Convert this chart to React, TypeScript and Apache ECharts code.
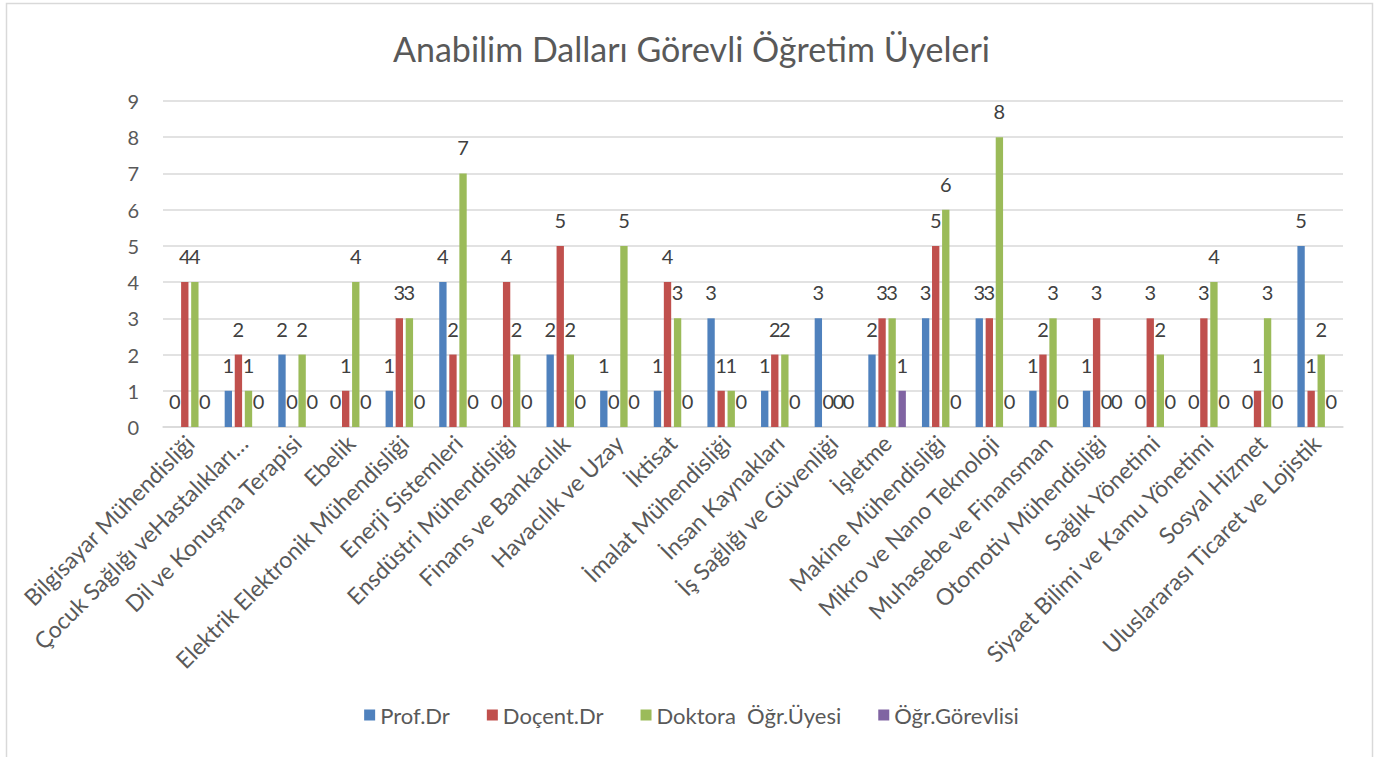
import React, { useEffect, useRef } from "react";
import * as echarts from "echarts";

const categories = [
  "Bilgisayar Mühendisliği",
  "Çocuk Sağlığı veHastalıkları…",
  "Dil ve Konuşma Terapisi",
  "Ebelik",
  "Elektrik Elektronik Mühendisliği",
  "Enerji Sistemleri",
  "Ensdüstri Mühendisliği",
  "Finans ve Bankacılık",
  "Havacılık ve Uzay",
  "İktisat",
  "İmalat Mühendisliği",
  "İnsan Kaynakları",
  "İş Sağlığı ve Güvenliği",
  "İşletme",
  "Makine Mühendisliği",
  "Mikro ve Nano Teknoloji",
  "Muhasebe ve Finansman",
  "Otomotiv Mühendisliği",
  "Sağlık Yönetimi",
  "Siyaet Bilimi ve Kamu Yönetimi",
  "Sosyal Hizmet",
  "Uluslararası Ticaret ve Lojistik",
];

const profDr = [0, 1, 2, 0, 1, 4, 0, 2, 1, 1, 3, 1, 3, 2, 3, 3, 1, 1, 0, 0, 0, 5];
const docentDr = [4, 2, 0, 1, 3, 2, 4, 5, 0, 4, 1, 2, 0, 3, 5, 3, 2, 3, 3, 3, 1, 1];
const doktoraOgrUyesi = [4, 1, 2, 4, 3, 7, 2, 2, 5, 3, 1, 2, 0, 3, 6, 8, 3, 0, 2, 4, 3, 2];
const ogrGorevlisi = [0, 0, 0, 0, 0, 0, 0, 0, 0, 0, 0, 0, 0, 1, 0, 0, 0, 0, 0, 0, 0, 0];

const seriesNames = ["Prof.Dr", "Doçent.Dr", "Doktora  Öğr.Üyesi", "Öğr.Görevlisi"];
const colors = ["#4F81BD", "#C0504D", "#9BBB59", "#8064A2"];
const yTicks = [0, 1, 2, 3, 4, 5, 6, 7, 8, 9];

const FONT = "Lato, 'Open Sans', sans-serif";

export default function App() {
  const ref = useRef<HTMLDivElement>(null);
  useEffect(() => {
    if (!ref.current) return;
    const chart = echarts.init(ref.current, undefined, { renderer: "svg" });
    const dataSets = [profDr, docentDr, doktoraOgrUyesi, ogrGorevlisi];
    chart.setOption({
      animation: false,
      backgroundColor: "#FFFFFF",
      textStyle: { fontFamily: FONT },
      title: {
        text: "Anabilim Dalları Görevli Öğretim Üyeleri",
        left: "center",
        top: 26,
        textStyle: { fontFamily: FONT, fontSize: 34, fontWeight: "normal", color: "#595959" },
      },
      legend: {
        bottom: 26,
        left: "center",
        itemWidth: 11,
        itemHeight: 11,
        itemGap: 37,
        icon: "rect",
        textStyle: { fontFamily: FONT, fontSize: 22, color: "#595959" },
        data: seriesNames,
      },
      grid: { left: 163, right: 40, top: 101, bottom: 330, containLabel: false },
      xAxis: {
        type: "category",
        data: categories,
        axisLine: { lineStyle: { color: "#D9D9D9", width: 1.5 } },
        axisTick: { show: false },
        axisLabel: {
          interval: 0,
          rotate: 45,
          margin: 12,
          fontFamily: FONT,
          fontSize: 23,
          color: "#595959",
        },
      },
      yAxis: {
        type: "value",
        min: 0,
        max: yTicks[yTicks.length - 1],
        interval: 1,
        axisLine: { show: false },
        axisTick: { show: false },
        splitLine: { lineStyle: { color: "#D9D9D9", width: 1.5 } },
        axisLabel: { margin: 24, fontFamily: FONT, fontSize: 20, color: "#595959" },
      },
      series: seriesNames.map((name, i) => ({
        name,
        type: "bar",
        data: dataSets[i],
        barGap: "37%",
        barCategoryGap: "30%",
        itemStyle: { color: colors[i] },
        label: {
          show: true,
          position: "top",
          distance: 16,
          fontFamily: FONT,
          fontSize: 20,
          color: "#404040",
        },
      })),
      graphic: [
        {
          type: "rect",
          shape: { x: 6.5, y: 3.5, width: 1366, height: 800 },
          style: { fill: "none", stroke: "#D9D9D9", lineWidth: 1.5 },
          silent: true,
        },
      ],
    });
    return () => chart.dispose();
  }, []);
  return (
    <div
      ref={ref}
      style={{ position: "absolute", left: 0, top: 0, width: 1383, height: 757 }}
    />
  );
}
